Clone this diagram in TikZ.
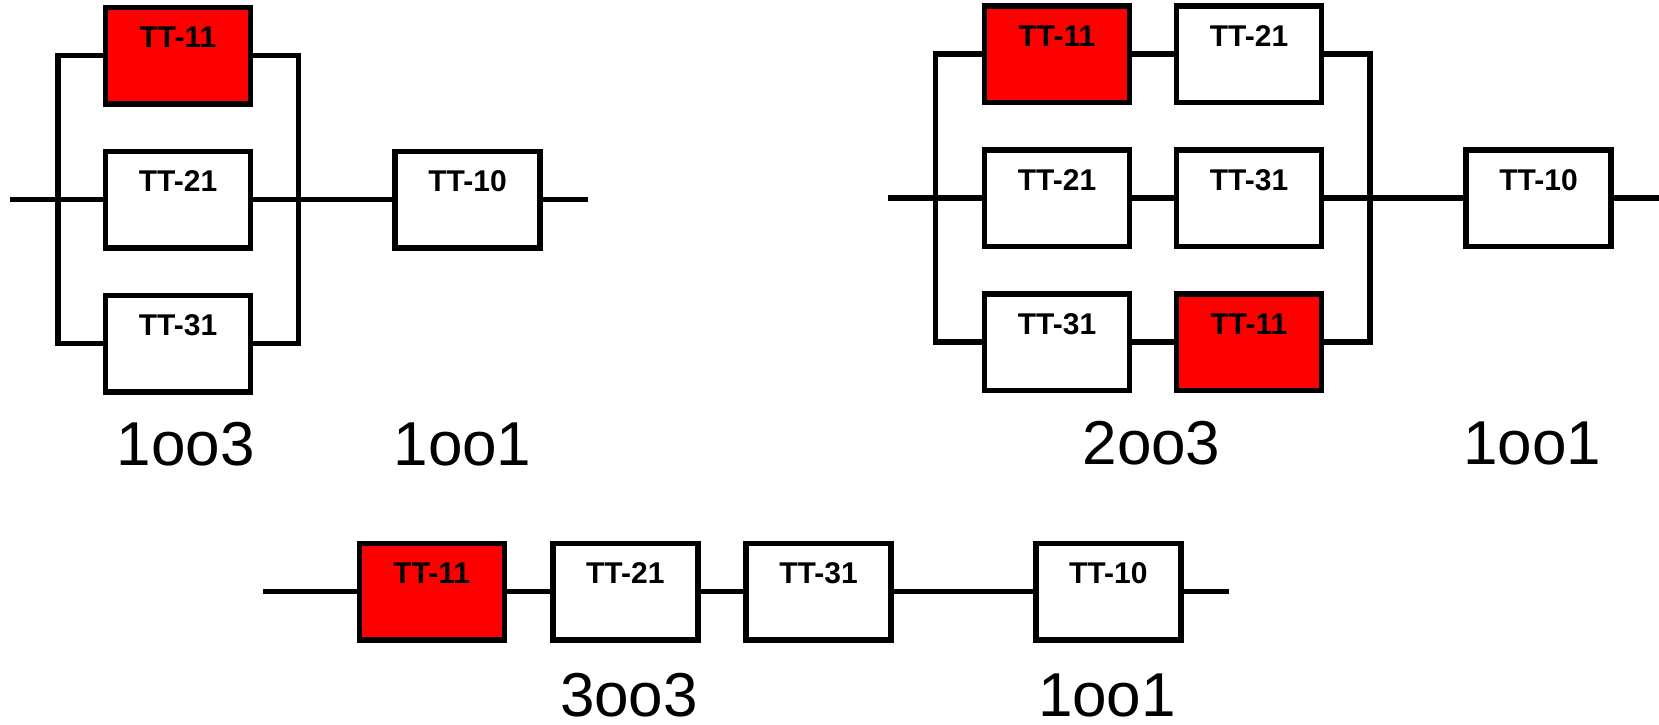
\documentclass[tikz,border=0pt]{standalone}
\usepackage{fontspec}
\setmainfont{Liberation Sans}
\begin{document}
\begin{tikzpicture}[x=1pt,y=-1pt,
  blk/.style={draw, line width=5.5pt, minimum width=145pt, minimum height=96.5pt,
    outer sep=0pt, inner sep=0pt, fill=white},
  hot/.style={blk, fill=red},
  tag/.style={font=\fontsize{30}{34}\selectfont\bfseries, inner sep=0pt, anchor=center, yshift=-30pt},
  wire/.style={line width=5.5pt, line join=miter},
  lbl/.style={font=\fontsize{62}{70}\selectfont, inner sep=0pt}]
\useasboundingbox (0,0) rectangle (1659,724);

% ---------- 1oo3 + 1oo1 ----------
\node[hot, label={[tag]north:TT-11}] (a11) at (178,55.5) {};
\node[blk, label={[tag]north:TT-21}] (a21) at (178,199.5) {};
\node[blk, label={[tag]north:TT-31}] (a31) at (178,343.5) {};
\node[blk, label={[tag]north:TT-10}] (a10) at (467.5,199.5) {};
\coordinate (ain) at (10,199.5);
\coordinate (aout) at (588,199.5);
\coordinate (alt) at (58,55.5);
\coordinate (alb) at (58,343.5);
\coordinate (art) at (298.5,55.5);
\coordinate (arb) at (298.5,343.5);
\draw[wire] (a11.west) -- (alt) -- (alb) -- (a31.west);
\draw[wire] (a11.east) -- (art) -- (arb) -- (a31.east);
\draw[wire] (ain) -- (a21.west);
\draw[wire] (a21.east) -- (a10.west);
\draw[wire] (a10.east) -- (aout);
\node[lbl] (l1) at (185.6,444.5) {1oo3};
\node[lbl] (l2) at (462.5,444.5) {1oo1};

% ---------- 2oo3 + 1oo1 ----------
\node[hot, label={[tag]north:TT-11}] (b11) at (1057,54) {};
\node[blk, label={[tag]north:TT-21}] (b12) at (1249,54) {};
\node[blk, label={[tag]north:TT-21}] (b21) at (1057,198) {};
\node[blk, label={[tag]north:TT-31}] (b22) at (1249,198) {};
\node[blk, label={[tag]north:TT-31}] (b31) at (1057,342) {};
\node[hot, label={[tag]north:TT-11}] (b32) at (1249,342) {};
\node[blk, label={[tag]north:TT-10}] (b10) at (1538.5,198) {};
\coordinate (bin) at (888,198);
\coordinate (bout) at (1659,198);
\coordinate (blt) at (935.5,54);
\coordinate (blb) at (935.5,342);
\coordinate (brt) at (1370,54);
\coordinate (brb) at (1370,342);
\draw[wire] (b11.west) -- (blt) -- (blb) -- (b31.west);
\draw[wire] (b12.east) -- (brt) -- (brb) -- (b32.east);
\draw[wire] (b11.east) -- (b12.west);
\draw[wire] (b21.east) -- (b22.west);
\draw[wire] (b31.east) -- (b32.west);
\draw[wire] (bin) -- (b21.west);
\draw[wire] (b22.east) -- (b10.west);
\draw[wire] (b10.east) -- (bout);
\node[lbl] (l3) at (1151.5,443.5) {2oo3};
\node[lbl] (l4) at (1532,443.5) {1oo1};

% ---------- 3oo3 + 1oo1 ----------
\node[hot, label={[tag]north:TT-11}] (c1) at (431.8,591.5) {};
\node[blk, label={[tag]north:TT-21}] (c2) at (625.3,591.5) {};
\node[blk, label={[tag]north:TT-31}] (c3) at (818.5,591.5) {};
\node[blk, label={[tag]north:TT-10}] (c10) at (1108.3,591.5) {};
\coordinate (cin) at (262.6,591.5);
\coordinate (cout) at (1228.6,591.5);
\draw[wire] (cin) -- (c1.west);
\draw[wire] (c1.east) -- (c2.west);
\draw[wire] (c2.east) -- (c3.west);
\draw[wire] (c3.east) -- (c10.west);
\draw[wire] (c10.east) -- (cout);
\node[lbl] (l5) at (629,695) {3oo3};
\node[lbl] (l6) at (1107,695) {1oo1};
\end{tikzpicture}
\end{document}
